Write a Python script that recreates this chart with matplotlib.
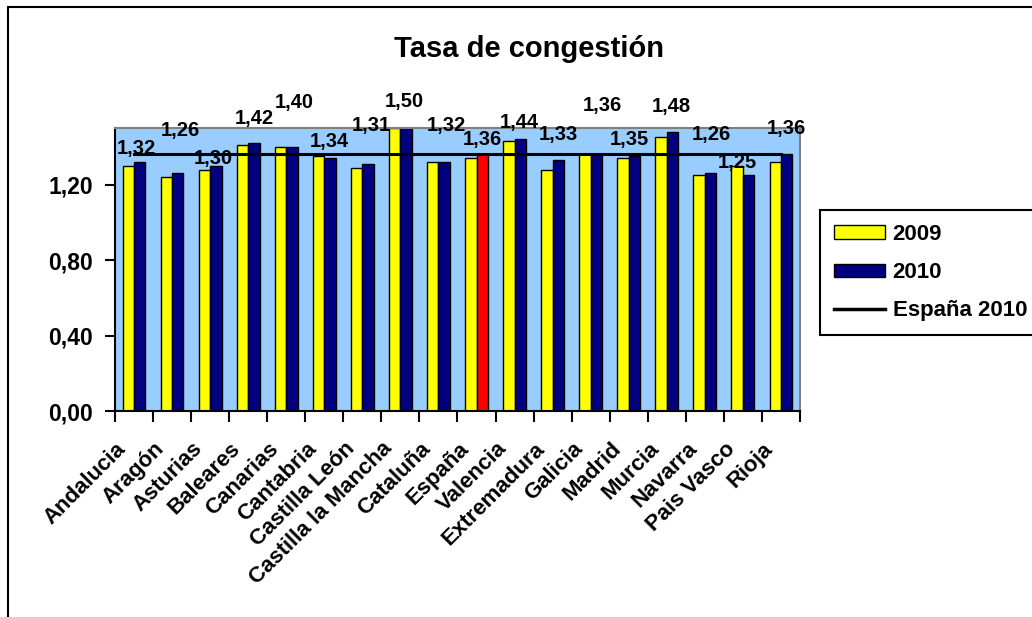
import matplotlib
matplotlib.use('Agg')
import matplotlib.pyplot as plt
import numpy as np
from matplotlib.patches import Rectangle, Patch
from matplotlib.lines import Line2D
from matplotlib.ticker import FuncFormatter
from matplotlib.transforms import ScaledTranslation

# Datos: tasa de congestión por comunidad autónoma
comunidades = ['Andalucia', 'Aragón', 'Asturias', 'Baleares', 'Canarias', 'Cantabria',
               'Castilla León', 'Castilla la Mancha', 'Cataluña', 'España', 'Valencia',
               'Extremadura', 'Galicia', 'Madrid', 'Murcia', 'Navarra', 'Pais Vasco', 'Rioja']
tasa_2009 = [1.30, 1.24, 1.28, 1.41, 1.40, 1.35, 1.29, 1.50, 1.32, 1.34, 1.43, 1.28,
             1.36, 1.34, 1.45, 1.25, 1.30, 1.32]
tasa_2010 = [1.32, 1.26, 1.30, 1.42, 1.40, 1.34, 1.31, 1.50, 1.32, 1.36, 1.44, 1.33,
             1.36, 1.35, 1.48, 1.26, 1.25, 1.36]
espana_2010 = 1.36

# Desplazamiento de las etiquetas (pixeles) respecto a la barra 2010
label_dx = [-3, 3, -3, 0, 2, -1, 3, -2, 2, 0, -1, 0, 6, -5, -1, 1, -11, 0]
label_dy = [13, 43, 7, 25, 44, 17, 38, 26, 36, 15, 17, 26, 49, 17, 25, 39, 13, 26]


def coma(v, pos=None):
    return f"{v:.2f}".replace('.', ',')


plt.rcParams['font.family'] = ['Liberation Sans', 'DejaVu Sans']
plt.rcParams['font.weight'] = 'bold'

W, H = 1032, 617
fig = plt.figure(figsize=(W / 100, H / 100), dpi=100)
ax = fig.add_axes([115 / W, 1 - 411 / H, 685 / W, 283 / H])

x = np.arange(len(comunidades))
colores_2010 = ['#FF0000' if c == 'España' else '#000080' for c in comunidades]

ax.bar(x - 0.15, tasa_2009, 0.3, color='#FFFF00', edgecolor='black', linewidth=1, zorder=2)
ax.bar(x + 0.15, tasa_2010, 0.3, color=colores_2010, edgecolor='black', linewidth=1, zorder=2)
ax.plot(x, [espana_2010] * len(x), color='black', linewidth=2.2, zorder=3)

for i, v in enumerate(tasa_2010):
    ax.annotate(coma(v), (x[i] + 0.15, v), xytext=(label_dx[i], label_dy[i]),
                textcoords='offset pixels', ha='center', va='center',
                fontsize=14.5, fontweight='bold', zorder=4, annotation_clip=False)

ax.set_xlim(-0.5, len(comunidades) - 0.5)
ax.set_ylim(0, 1.5)
ax.set_facecolor('#99CCFF')

ax.set_yticks([0, 0.4, 0.8, 1.2])
ax.yaxis.set_major_formatter(FuncFormatter(coma))
ax.tick_params(axis='y', direction='out', length=7, width=1.5, pad=9, labelsize=16.5)

ax.set_xticks(x)
ax.set_xticklabels(comunidades, rotation=45, ha='right', va='center', rotation_mode='anchor')
ax.set_xticks(np.arange(-0.5, len(comunidades), 1), minor=True)
ax.tick_params(axis='x', which='major', length=0, pad=25, labelsize=16)
ax.tick_params(axis='x', which='minor', direction='out', length=8, width=1.5)
desplaza = ScaledTranslation(-11 / 100, 0, fig.dpi_scale_trans)
for etiqueta in ax.get_xticklabels():
    etiqueta.set_transform(etiqueta.get_transform() + desplaza)

for lado in ['left', 'bottom']:
    ax.spines[lado].set_color('black')
    ax.spines[lado].set_linewidth(1.5)
for lado in ['top', 'right']:
    ax.spines[lado].set_color('#808080')
    ax.spines[lado].set_linewidth(1.5)

# Leyenda
handles = [Patch(facecolor='#FFFF00', edgecolor='black', linewidth=1),
           Patch(facecolor='#000080', edgecolor='black', linewidth=1),
           Line2D([0], [0], color='black', linewidth=2.5)]
leg = fig.legend(handles, ['2009', '2010', 'España 2010'], loc='upper left',
                 bbox_to_anchor=(820 / W, 1 - 210 / H), borderaxespad=0,
                 fontsize=16, frameon=True, fancybox=False, edgecolor='black',
                 framealpha=1, handlelength=2.3, handleheight=0.55,
                 handletextpad=0.35, labelspacing=0.78, borderpad=0.62)
leg.get_frame().set_linewidth(1.5)

# Título y marco exterior
fig.text(529 / W, 1 - 57 / H, 'Tasa de congestión', ha='center', va='baseline',
         fontsize=21, fontweight='bold')
fig.patches.append(Rectangle((8 / W, -0.1), 1.2, 1 - 7 / H + 0.1, transform=fig.transFigure,
                             fill=False, edgecolor='black', linewidth=1.5))

fig.savefig('out.png', dpi=100)
